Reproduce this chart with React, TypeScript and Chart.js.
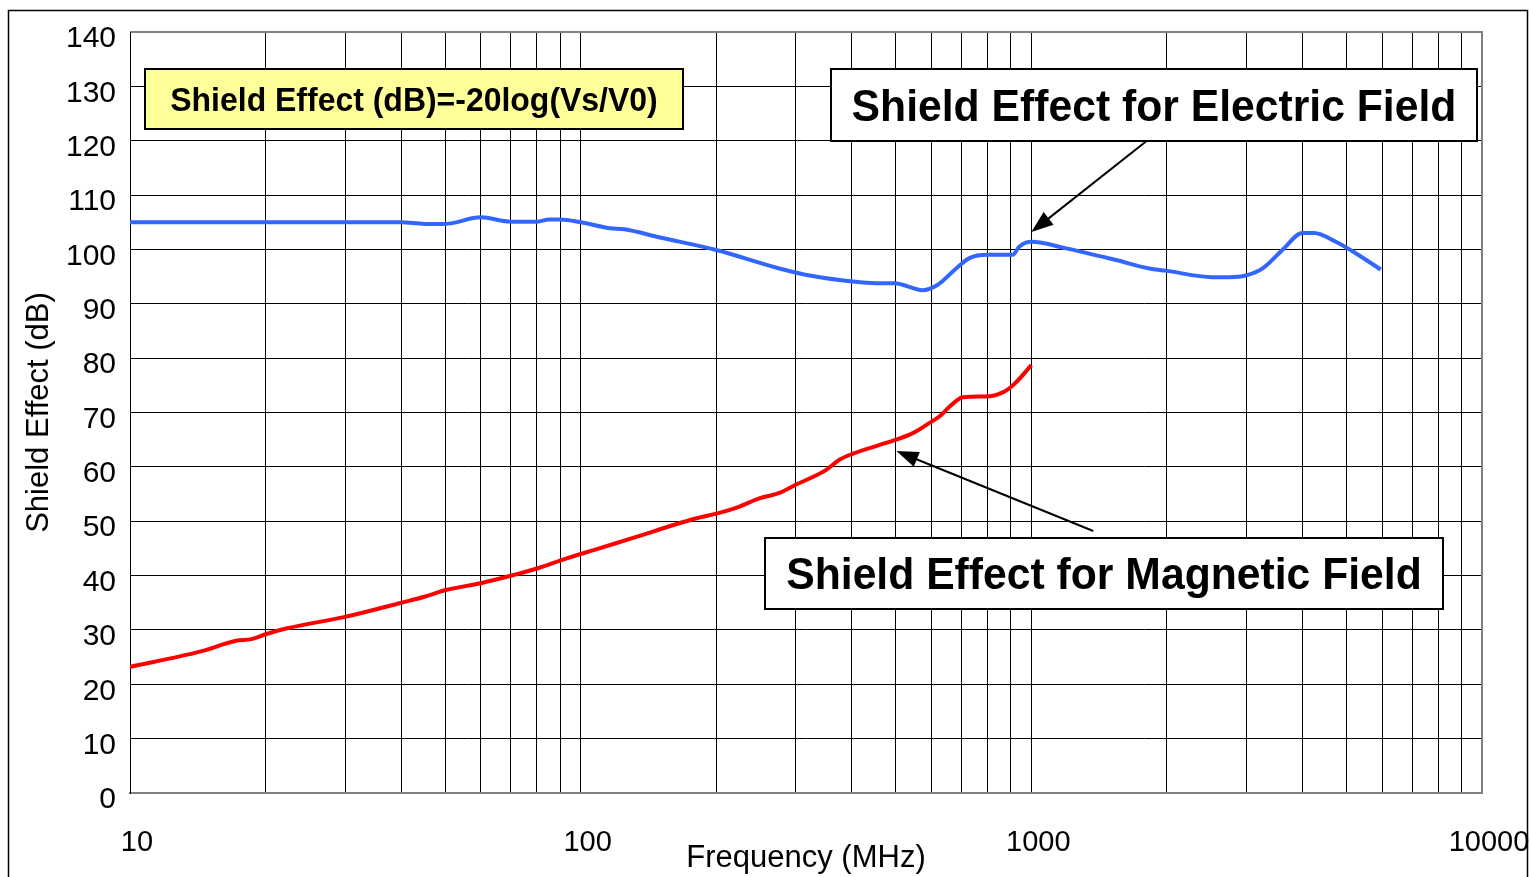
import React, { useEffect, useRef } from 'react';
import { Chart, registerables } from 'chart.js';

Chart.register(...registerables);

// ---- Data (frequency in MHz, shield effect in dB) ----
const electricFreq = [10, 20, 30, 40, 45, 50, 60, 70, 80, 85, 90, 100, 116, 125, 150, 200, 276, 327, 401, 452, 497, 574, 620, 681, 729, 800, 909, 940, 1000, 1194, 1541, 1826, 1989, 2523, 2748, 2992, 3260, 3607, 3996, 4242, 4738, 5245, 5960];
const electricDb = [105, 105, 105, 105, 104.7, 104.7, 105.9, 105.1, 105.1, 105.5, 105.5, 105.0, 103.9, 103.7, 102.2, 99.9, 96.5, 95.1, 94.1, 93.8, 93.8, 92.5, 93.5, 96.5, 98.4, 99.0, 99.0, 100.5, 101.4, 100.2, 98.05, 96.5, 96.1, 94.9, 94.9, 95.2, 96.5, 99.9, 103.0, 103.0, 101.4, 99.3, 96.3];

const magneticFreq = [10, 14.3, 17.2, 18.6, 20, 22.3, 30, 40, 45, 50, 60, 71, 80, 91, 110, 128, 180, 200, 225, 249, 276, 300, 350, 375, 401, 497, 546, 592, 626, 659, 705, 808, 870, 921, 1000];
const magneticDb = [23.2, 26.0, 28.0, 28.3, 29.2, 30.3, 32.4, 35.0, 36.1, 37.3, 38.6, 40.1, 41.3, 42.9, 45.0, 46.7, 50.5, 51.4, 52.7, 54.2, 55.2, 56.7, 59.4, 61.3, 62.4, 64.9, 66.2, 68.0, 69.3, 71.1, 72.8, 73.0, 73.8, 75.4, 78.7];

// ---- Axis ticks / labels ----
const xGridTicks = [10, 20, 30, 40, 50, 60, 70, 80, 90, 100, 200, 300, 400, 500, 600, 700, 800, 900, 1000, 2000, 3000, 4000, 5000, 6000, 7000, 8000, 9000, 10000];
const xLabelValues = [10, 100, 1000, 10000];
const xTickLabels = ['10', '100', '1000', '10000'];
const yMin = 0;
const yMax = 140;
const yStep = 10;

const xTitle = 'Frequency (MHz)';
const yTitle = 'Shield Effect (dB)';
const formulaText = 'Shield Effect (dB)=-20log(Vs/V0)';
const electricText = 'Shield Effect for Electric Field';
const magneticText = 'Shield Effect for Magnetic Field';

const FONT = '"Liberation Sans", Arial, Helvetica, sans-serif';

// annotation boxes in data coordinates: [xLeft, xRight, yTop, yBottom]
const formulaBox = [10.8, 168.4, 133.2, 122.1];
const electricBox = [360.2, 9748, 133.2, 119.9];
const magneticBox = [257.1, 8195, 46.9, 33.8];
// arrows in data coordinates: [xTail, yTail, xHead, yHead]
const electricArrow = [1799, 119.9, 1000, 103.2];
const magneticArrow = [1372, 48.2, 502, 62.9];

function drawArrow(ctx: CanvasRenderingContext2D, x1: number, y1: number, x2: number, y2: number) {
  const ang = Math.atan2(y2 - y1, x2 - x1);
  const len = 22;
  const half = 8;
  ctx.save();
  ctx.strokeStyle = '#000';
  ctx.fillStyle = '#000';
  ctx.lineWidth = 2;
  ctx.beginPath();
  ctx.moveTo(x1, y1);
  ctx.lineTo(x2 - Math.cos(ang) * len * 0.8, y2 - Math.sin(ang) * len * 0.8);
  ctx.stroke();
  ctx.beginPath();
  ctx.moveTo(x2, y2);
  ctx.lineTo(x2 - Math.cos(ang) * len + Math.sin(ang) * half, y2 - Math.sin(ang) * len - Math.cos(ang) * half);
  ctx.lineTo(x2 - Math.cos(ang) * len - Math.sin(ang) * half, y2 - Math.sin(ang) * len + Math.cos(ang) * half);
  ctx.closePath();
  ctx.fill();
  ctx.restore();
}

function drawBox(chart: any, box: number[], fill: string, text: string, size: number, sx: number) {
  const { ctx, scales } = chart;
  const l = Math.round(scales.x.getPixelForValue(box[0]));
  const r = Math.round(scales.x.getPixelForValue(box[1]));
  const t = Math.round(scales.y.getPixelForValue(box[2]));
  const b = Math.round(scales.y.getPixelForValue(box[3]));
  ctx.save();
  ctx.fillStyle = fill;
  ctx.fillRect(l, t, r - l, b - t);
  ctx.strokeStyle = '#000';
  ctx.lineWidth = 2;
  ctx.strokeRect(l, t, r - l, b - t);
  ctx.font = `bold ${size}px ${FONT}`;
  ctx.fillStyle = '#000';
  ctx.textAlign = 'center';
  ctx.textBaseline = 'alphabetic';
  ctx.translate((l + r) / 2, (t + b) / 2 + size * 0.358);
  ctx.scale(sx, 1);
  ctx.fillText(text, 0, 0);
  ctx.restore();
}

const decorPlugin = {
  id: 'decor',
  beforeDatasetsDraw(chart: any) {
    const { ctx, chartArea } = chart;
    ctx.save();
    ctx.strokeStyle = '#808080';
    ctx.lineWidth = 2;
    ctx.beginPath();
    ctx.moveTo(chartArea.left, chartArea.top);
    ctx.lineTo(chartArea.right, chartArea.top);
    ctx.lineTo(chartArea.right, chartArea.bottom);
    ctx.stroke();
    ctx.strokeStyle = '#000';
    ctx.lineWidth = 1;
    ctx.beginPath();
    ctx.moveTo(chartArea.left + 0.5, chartArea.top);
    ctx.lineTo(chartArea.left + 0.5, chartArea.bottom);
    ctx.stroke();
    ctx.restore();
  },
  afterDatasetsDraw(chart: any) {
    const { ctx, scales } = chart;
    const px = (v: number) => scales.x.getPixelForValue(v);
    const py = (v: number) => scales.y.getPixelForValue(v);
    drawBox(chart, formulaBox, '#FFFF99', formulaText, 34, 0.94);
    drawBox(chart, electricBox, '#FFFFFF', electricText, 44, 0.97);
    drawBox(chart, magneticBox, '#FFFFFF', magneticText, 44, 0.97);
    drawArrow(ctx, px(electricArrow[0]), py(electricArrow[1]), px(electricArrow[2]), py(electricArrow[3]));
    drawArrow(ctx, px(magneticArrow[0]), py(magneticArrow[1]), px(magneticArrow[2]), py(magneticArrow[3]));
  },
  afterDraw(chart: any) {
    const { ctx } = chart;
    ctx.save();
    ctx.strokeStyle = '#000';
    ctx.lineWidth = 1.5;
    ctx.strokeRect(8.5, 10.5, 1519, 900);
    ctx.restore();
  },
};

export default function App() {
  const canvasRef = useRef<HTMLCanvasElement | null>(null);

  useEffect(() => {
    const canvas = canvasRef.current;
    if (!canvas) return;
    const chart = new Chart(canvas, {
      type: 'scatter',
      data: {
        datasets: [
          {
            label: 'Electric Field',
            data: electricFreq.map((f, i) => ({ x: f, y: electricDb[i] })),
            borderColor: '#3366FF',
            backgroundColor: '#3366FF',
            borderWidth: 4,
            showLine: true,
            pointRadius: 0,
            cubicInterpolationMode: 'monotone',
          },
          {
            label: 'Magnetic Field',
            data: magneticFreq.map((f, i) => ({ x: f, y: magneticDb[i] })),
            borderColor: '#FF0000',
            backgroundColor: '#FF0000',
            borderWidth: 4,
            showLine: true,
            pointRadius: 0,
            cubicInterpolationMode: 'monotone',
          },
        ],
      },
      options: {
        responsive: false,
        animation: false,
        events: [],
        layout: { padding: { top: 32, right: 48, left: 0, bottom: 0 } },
        plugins: {
          legend: { display: false },
          tooltip: { enabled: false },
        },
        scales: {
          x: {
            type: 'logarithmic',
            min: 10,
            max: 10000,
            afterBuildTicks: (s: any) => {
              s.ticks = xGridTicks.map((v) => ({ value: v }));
            },
            afterFit: (s: any) => {
              s.height = 84;
              s.paddingLeft = 0;
              s.paddingRight = 0;
            },
            ticks: {
              autoSkip: false,
              maxRotation: 0,
              minRotation: 0,
              padding: 33,
              labelOffset: 7,
              color: '#000',
              font: { family: FONT, size: 29 },
              callback: (v: any) => {
                const i = xLabelValues.indexOf(Number(v));
                return i >= 0 ? xTickLabels[i] : '';
              },
            },
            grid: { color: '#000', lineWidth: 1, drawTicks: false },
            border: { color: '#808080', width: 2 },
            title: {
              display: true,
              text: xTitle,
              color: '#000',
              font: { family: FONT, size: 31 },
              padding: { top: 0, bottom: 0 },
            },
          },
          y: {
            type: 'linear',
            min: yMin,
            max: yMax,
            afterFit: (s: any) => {
              s.width = 130;
              s.paddingTop = 0;
              s.paddingBottom = 0;
            },
            ticks: {
              stepSize: yStep,
              padding: 14,
              labelOffset: 7,
              color: '#000',
              font: { family: FONT, size: 30 },
            },
            grid: { color: '#000', lineWidth: 1, drawTicks: false },
            border: { color: '#000', width: 1 },
            title: {
              display: true,
              text: yTitle,
              color: '#000',
              font: { family: FONT, size: 31 },
              padding: { top: 21, bottom: 0 },
            },
          },
        },
      },
      plugins: [decorPlugin],
    } as any);
    return () => chart.destroy();
  }, []);

  return (
    <div style={{ position: 'fixed', left: 0, top: 0, width: 1530, height: 877, background: '#fff' }}>
      <canvas ref={canvasRef} width={1530} height={877} style={{ display: 'block' }} />
    </div>
  );
}
